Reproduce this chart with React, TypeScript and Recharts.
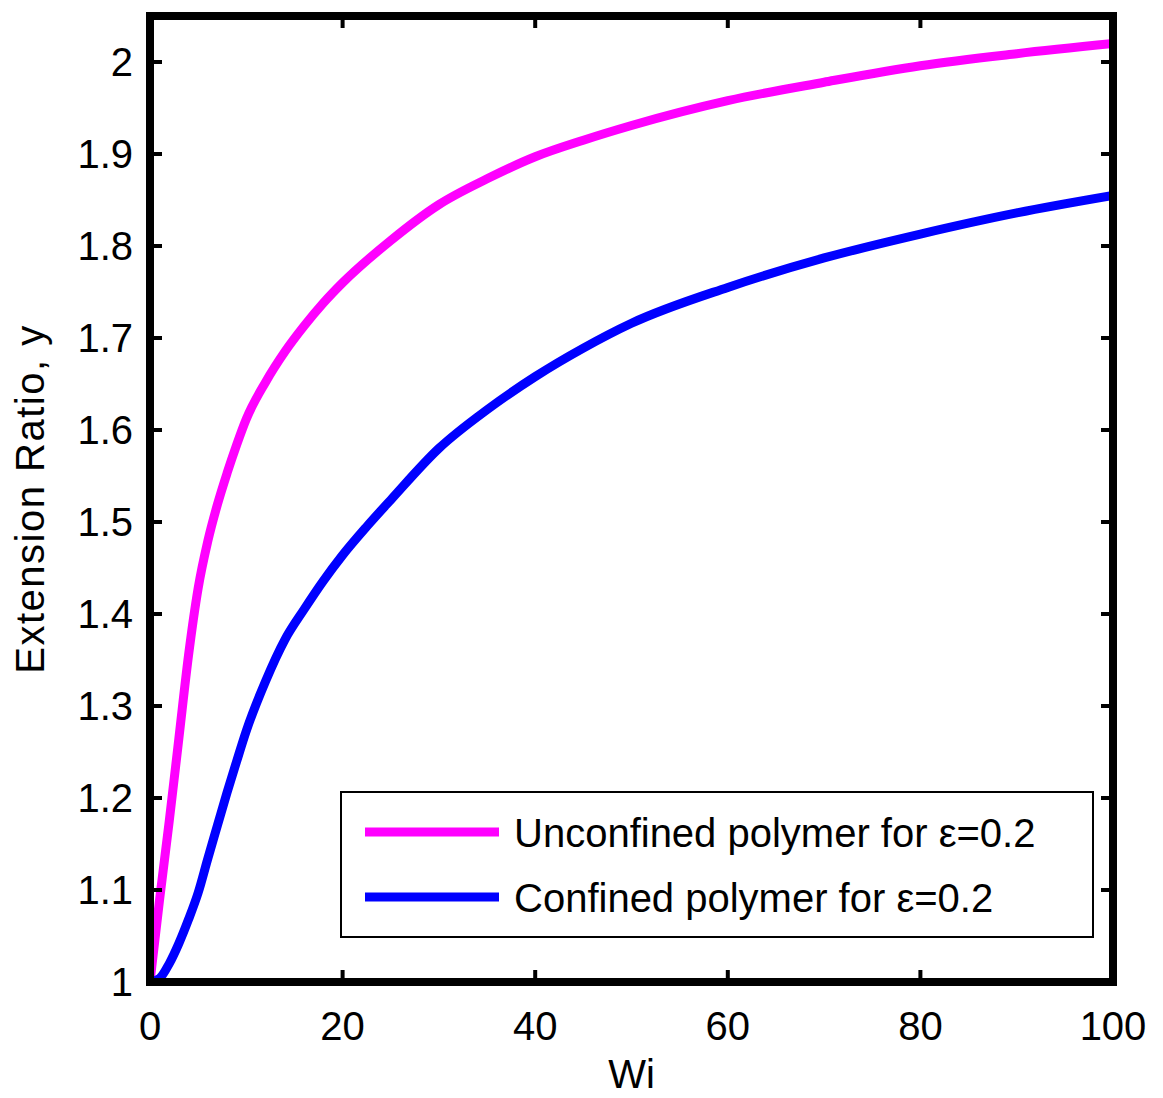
import React from 'react';
import { LineChart, Line, XAxis, YAxis, Legend } from 'recharts';

// Wi values and extension ratio for the unconfined polymer
const wiUnconfined = [0, 1, 2, 3, 4, 5, 6, 7, 8, 9, 10, 12, 14, 16, 18, 20, 25, 30, 35, 40, 45, 50, 60, 70, 80, 90, 100];
const yUnconfined = [1.0, 1.09, 1.175, 1.265, 1.355, 1.428, 1.479, 1.519, 1.553, 1.584, 1.612, 1.652, 1.685, 1.713, 1.738, 1.76, 1.806, 1.845, 1.873, 1.897, 1.915, 1.931, 1.958, 1.978, 1.996, 2.009, 2.02];

// Wi values and extension ratio for the confined polymer
const wiConfined = [0, 1, 2, 3, 4, 5, 6, 7, 8, 9, 10, 12, 14, 16, 18, 20, 22.5, 25, 30, 35, 40, 45, 50, 60, 70, 80, 90, 100];
const yConfined = [1.0, 1.004, 1.02, 1.042, 1.068, 1.097, 1.134, 1.17, 1.206, 1.24, 1.273, 1.327, 1.372, 1.405, 1.436, 1.464, 1.495, 1.524, 1.58, 1.622, 1.658, 1.689, 1.716, 1.755, 1.787, 1.813, 1.836, 1.855];

const xTicks = [0, 20, 40, 60, 80, 100];
const yTicks = [1, 1.1, 1.2, 1.3, 1.4, 1.5, 1.6, 1.7, 1.8, 1.9, 2];

const seriesNames = ['Unconfined polymer for \u03b5=0.2', 'Confined polymer for \u03b5=0.2'];
const seriesColors = ['#FF00FF', '#0000FF'];

const unconfinedData = wiUnconfined.map((wi, i) => ({ wi, y: yUnconfined[i] }));
const confinedData = wiConfined.map((wi, i) => ({ wi, y: yConfined[i] }));

const FONT = '"Liberation Sans", Arial, Helvetica, sans-serif';
const FS = 40;
const TICK_LEN = 12;
const TICK_W = 4;

const fmt = (v: number) => String(Number(v.toFixed(2)));

const BottomTick = (props: any) => {
  const { x, y, payload } = props;
  return (
    <g>
      <line x1={x} x2={x} y1={y} y2={y - TICK_LEN} stroke="#000" strokeWidth={TICK_W} />
      <text x={x} y={y + 58} textAnchor="middle" fontSize={FS} fontFamily={FONT} fill="#000">
        {fmt(payload.value)}
      </text>
    </g>
  );
};

const TopTick = (props: any) => {
  const { x, y } = props;
  return <line x1={x} x2={x} y1={y} y2={y + TICK_LEN} stroke="#000" strokeWidth={TICK_W} />;
};

const LeftTick = (props: any) => {
  const { x, y, payload } = props;
  return (
    <g>
      <line x1={x} x2={x + TICK_LEN} y1={y} y2={y} stroke="#000" strokeWidth={TICK_W} />
      <text x={x - 17} y={y + 14} textAnchor="end" fontSize={FS} fontFamily={FONT} fill="#000">
        {fmt(payload.value)}
      </text>
    </g>
  );
};

const RightTick = (props: any) => {
  const { x, y } = props;
  return <line x1={x} x2={x - TICK_LEN} y1={y} y2={y} stroke="#000" strokeWidth={TICK_W} />;
};

const LegendBox = (props: any) => {
  const payload = [...(props.payload || [])].sort(
    (a: any, b: any) => seriesNames.indexOf(a.value) - seriesNames.indexOf(b.value)
  );
  return (
    <svg width={754} height={147} style={{ display: 'block' }}>
      <rect x={1} y={1} width={752} height={145} fill="#fff" stroke="#000" strokeWidth={2} />
      {payload.map((p: any, i: number) => (
        <g key={i}>
          <line x1={25} x2={159} y1={41 + 65 * i} y2={41 + 65 * i} stroke={p.color} strokeWidth={9} />
          <text x={174} y={56 + 65 * i} fontSize={FS} fontFamily={FONT} fill="#000">
            {p.value}
          </text>
        </g>
      ))}
    </svg>
  );
};

const axisLineStyle = { stroke: '#000', strokeWidth: 8, strokeLinecap: 'square' as const };

export default function App() {
  return (
    <div style={{ position: 'absolute', left: 0, top: 0, width: 1163, height: 1098, background: '#fff' }}>
      <LineChart
        width={1163}
        height={1098}
        margin={{ top: 15, right: 49, bottom: 36, left: 0 }}
        style={{ fontFamily: FONT }}
      >
        <XAxis
          xAxisId="b"
          dataKey="wi"
          type="number"
          domain={[0, 100]}
          ticks={xTicks}
          interval={0}
          orientation="bottom"
          height={80}
          tickSize={0}
          tickMargin={0}
          tickLine={false}
          axisLine={axisLineStyle}
          tick={<BottomTick />}
          allowDataOverflow
          label={{
            content: (p: any) => {
              const vb = p.viewBox || {};
              return (
                <text x={vb.x + vb.width / 2} y={1088} textAnchor="middle" fontSize={FS} fontFamily={FONT} fill="#000">
                  Wi
                </text>
              );
            },
          }}
        />
        <XAxis
          xAxisId="t"
          dataKey="wi"
          type="number"
          domain={[0, 100]}
          ticks={xTicks.slice(1, -1)}
          interval={0}
          orientation="top"
          height={1}
          tickSize={0}
          tickMargin={0}
          tickLine={false}
          axisLine={axisLineStyle}
          tick={<TopTick />}
          allowDataOverflow
        />
        <YAxis
          yAxisId="l"
          type="number"
          domain={[1, 2.05]}
          ticks={yTicks}
          interval={0}
          orientation="left"
          width={150}
          tickSize={0}
          tickMargin={0}
          tickLine={false}
          axisLine={axisLineStyle}
          tick={<LeftTick />}
          allowDataOverflow
          label={{
            content: (p: any) => {
              const vb = p.viewBox || {};
              const cy = vb.y + vb.height / 2;
              return (
                <text
                  transform={`translate(30, ${cy}) rotate(-90)`}
                  x={0}
                  y={0}
                  textAnchor="middle"
                  dominantBaseline="central"
                  fontSize={FS}
                  fontFamily={FONT}
                  letterSpacing={1.5}
                  fill="#000"
                >
                  Extension Ratio, y
                </text>
              );
            },
          }}
        />
        <YAxis
          yAxisId="r"
          type="number"
          domain={[1, 2.05]}
          ticks={yTicks.slice(1)}
          interval={0}
          orientation="right"
          width={1}
          tickSize={0}
          tickMargin={0}
          tickLine={false}
          axisLine={axisLineStyle}
          tick={<RightTick />}
          allowDataOverflow
        />
        <Legend
          layout="horizontal"
          verticalAlign="middle"
          align="center"
          wrapperStyle={{ position: 'absolute', left: 340, top: 791, width: 754, height: 147 }}
          content={<LegendBox />}
        />
        <Line
          xAxisId="b"
          yAxisId="l"
          data={unconfinedData}
          dataKey="y"
          name={seriesNames[0]}
          stroke={seriesColors[0]}
          strokeWidth={9}
          type="monotone"
          dot={false}
          activeDot={false}
          isAnimationActive={false}
        />
        <Line
          xAxisId="b"
          yAxisId="l"
          data={confinedData}
          dataKey="y"
          name={seriesNames[1]}
          stroke={seriesColors[1]}
          strokeWidth={9}
          type="monotone"
          dot={false}
          activeDot={false}
          isAnimationActive={false}
        />
      </LineChart>
    </div>
  );
}
